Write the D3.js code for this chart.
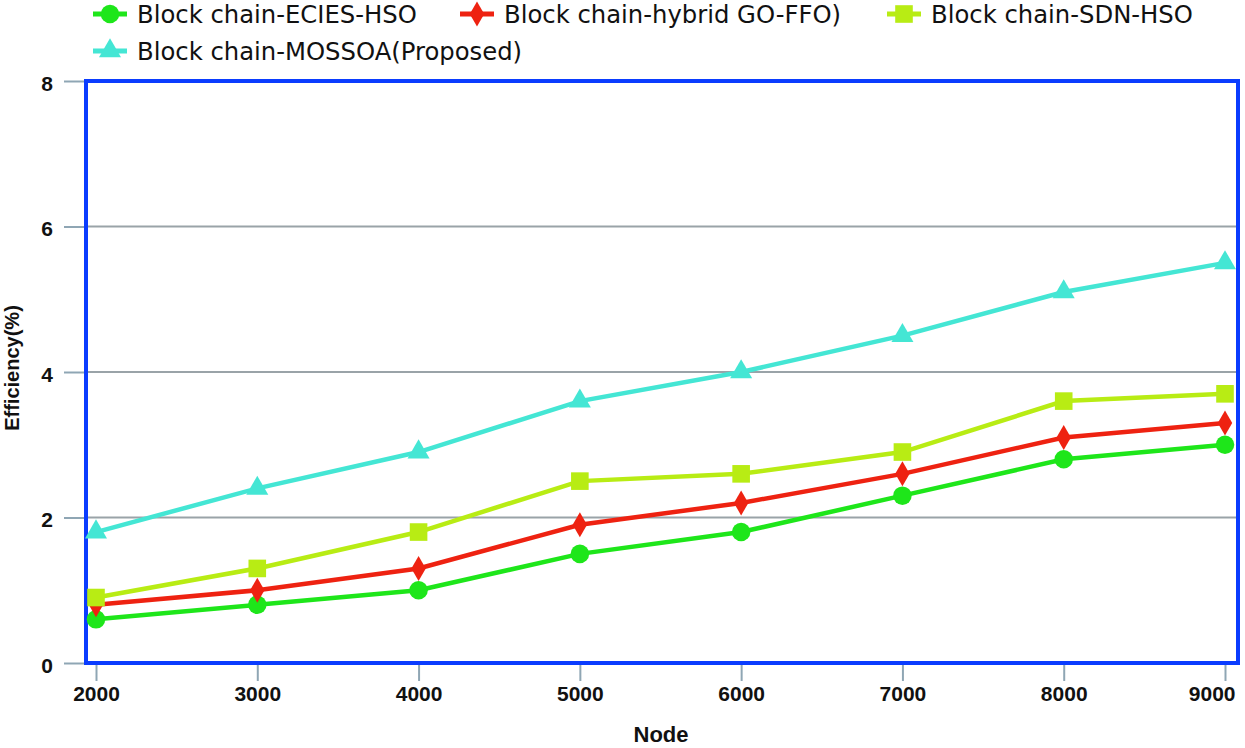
<!DOCTYPE html>
<html><head><meta charset="utf-8">
<script src="https://cdn.jsdelivr.net/npm/d3@7/dist/d3.min.js"></script>
<style>body{margin:0;background:#fff}</style>
</head><body>
<svg id="c" width="1245" height="748"></svg>
<script>
const nodes = [2000, 3000, 4000, 5000, 6000, 7000, 8000, 9000];
const ecies = [0.6, 0.8, 1.0, 1.5, 1.8, 2.3, 2.8, 3.0];
const hybrid = [0.8, 1.0, 1.3, 1.9, 2.2, 2.6, 3.1, 3.3];
const sdn = [0.9, 1.3, 1.8, 2.5, 2.6, 2.9, 3.6, 3.7];
const mossoa = [1.8, 2.4, 2.9, 3.6, 4.0, 4.5, 5.1, 5.5];
const yTicks = [0, 2, 4, 6, 8];
const seriesNames = ["Block chain-ECIES-HSO", "Block chain-hybrid GO-FFO)", "Block chain-SDN-HSO", "Block chain-MOSSOA(Proposed)"];

const series = [
  {name: seriesNames[0], values: ecies, color: "#1ee61a", sym: d3.symbolCircle, size: 270},
  {name: seriesNames[1], values: hybrid, color: "#ee2211", sym: d3.symbolDiamond, size: 180},
  {name: seriesNames[2], values: sdn, color: "#b8ec14", sym: d3.symbolSquare, size: 310},
  {name: seriesNames[3], values: mossoa, color: "#44e6d4", sym: d3.symbolTriangle, size: 210}
];

const svg = d3.select("#c");
const L = 86, R = 1238, T = 81, B = 663;
const x = d3.scaleLinear().domain([2000, 9000]).range([96, 1225]);
const y = d3.scaleLinear().domain([0, 8]).range([B, T]);
const FONT = "Liberation Sans, Arial, sans-serif";

// gridlines
svg.append("g").selectAll("line").data(yTicks.filter(d => d > 0 && d < 8)).join("line")
  .attr("x1", L).attr("x2", R).attr("y1", d => y(d)).attr("y2", d => y(d))
  .attr("stroke", "#9aa3a8").attr("stroke-width", 2);

// y axis
const ya = svg.append("g").attr("transform", `translate(${L},0)`)
  .call(d3.axisLeft(y).tickValues(yTicks).tickSize(22).tickPadding(11));
ya.select(".domain").remove();
ya.selectAll(".tick line").attr("stroke", "#8fa6b4").attr("stroke-width", 2);
ya.selectAll("text").attr("font-family", FONT).attr("font-size", 21).attr("font-weight", "bold").attr("fill", "#111").attr("dy", "0.45em");

// x axis
const xa = svg.append("g").attr("transform", `translate(0,${B})`)
  .call(d3.axisBottom(x).tickValues(nodes).tickFormat(d3.format("d")).tickSize(18).tickPadding(5));
xa.select(".domain").remove();
xa.selectAll(".tick line").attr("stroke", "#8fa6b4").attr("stroke-width", 2);
xa.selectAll("text").attr("font-family", FONT).attr("font-size", 21).attr("font-weight", "bold").attr("fill", "#111");
xa.selectAll(".tick").filter(d => d === 9000).select("text").attr("text-anchor", "end").attr("x", 10);

// plot border
svg.append("rect").attr("x", L).attr("y", T).attr("width", R - L).attr("height", B - T)
  .attr("fill", "none").attr("stroke", "#0a3cff").attr("stroke-width", 4);

// lines
const line = d3.line().x((d, i) => x(nodes[i])).y(d => y(d));
series.forEach(s => {
  svg.append("path").datum(s.values).attr("d", line)
    .attr("fill", "none").attr("stroke", s.color).attr("stroke-width", 4.5);
});
series.forEach(s => {
  svg.append("g").selectAll("path").data(s.values).join("path")
    .attr("transform", (d, i) => `translate(${x(nodes[i])},${y(d)})`)
    .attr("d", d3.symbol().type(s.sym).size(s.size)).attr("fill", s.color);
});

// axis titles
svg.append("text").attr("x", 661).attr("y", 742).attr("text-anchor", "middle")
  .attr("font-family", FONT).attr("font-weight", "bold").attr("font-size", 22).attr("fill", "#111").text("Node");
svg.append("text").attr("transform", "translate(19,368) rotate(-90)").attr("text-anchor", "middle")
  .attr("font-family", FONT).attr("font-weight", "bold").attr("font-size", 20).attr("fill", "#111").text("Efficiency(%)");

// legend
const legPos = [[93, 14], [460, 14], [887, 14], [93, 51]];
series.forEach((s, i) => {
  const [lx, ly] = legPos[i];
  const g = svg.append("g").attr("transform", `translate(${lx},${ly})`);
  g.append("line").attr("x1", 0).attr("x2", 34).attr("y1", 0).attr("y2", 0).attr("stroke", s.color).attr("stroke-width", 5);
  g.append("path").attr("transform", "translate(17,0)").attr("d", d3.symbol().type(s.sym).size(s.size)).attr("fill", s.color);
  g.append("text").attr("x", 44).attr("y", 8.5).attr("font-family", "DejaVu Sans").attr("font-size", 24.3).attr("fill", "#111").text(s.name);
});
</script>
</body></html>
